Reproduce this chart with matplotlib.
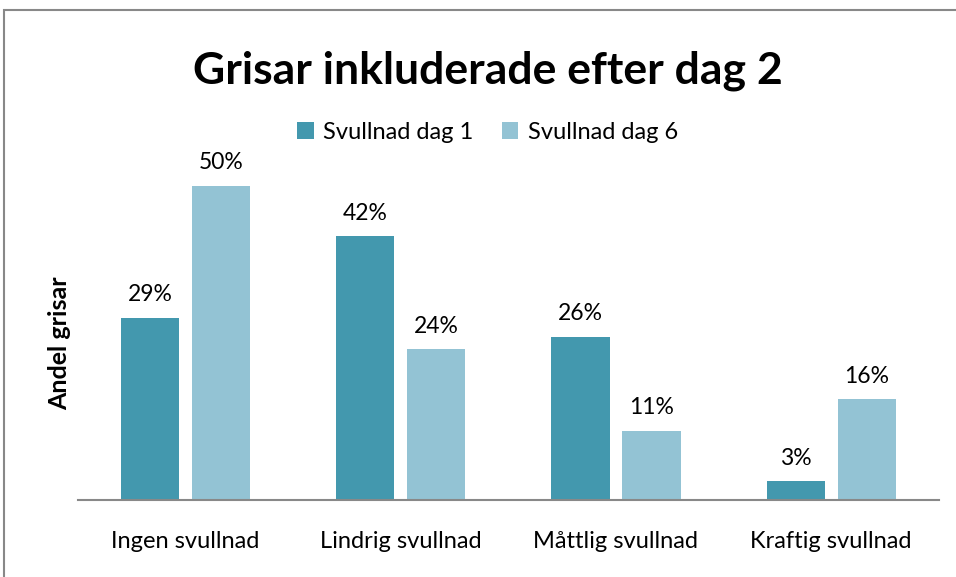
import numpy as np
import matplotlib.pyplot as plt
from matplotlib.patches import Rectangle

plt.rcParams['font.family'] = ['Lato', 'DejaVu Sans']

categories = ['Ingen svullnad', 'Lindrig svullnad', 'Måttlig svullnad', 'Kraftig svullnad']
series_names = ['Svullnad dag 1', 'Svullnad dag 6']
dag1 = [0.29, 0.42, 0.26, 0.03]
dag6 = [0.50, 0.24, 0.11, 0.16]
colors = ['#4398AE', '#93C3D4']

fig = plt.figure(figsize=(9.56, 5.77), dpi=100)
ax = fig.add_axes([0.0816, 0.1334, 0.9004, 0.6536])

x = np.arange(len(categories))
w = 0.27
off = 0.165
b1 = ax.bar(x - off, dag1, w, color=colors[0], label=series_names[0])
b2 = ax.bar(x + off, dag6, w, color=colors[1], label=series_names[1])

for bars, vals in [(b1, dag1), (b2, dag6)]:
    for rect, v in zip(bars, vals):
        ax.annotate(f'{v:.0%}', (rect.get_x() + rect.get_width() / 2, v),
                    xytext=(0, 9), textcoords='offset points',
                    ha='center', va='bottom', fontsize=16.5)

ax.set_xlim(-0.5, 3.5)
ax.set_ylim(0, 0.6)
ax.set_xticks(x, categories, fontsize=17)
ax.tick_params(axis='x', length=0, pad=22)
ax.set_yticks([])
for s in ['top', 'right', 'left']:
    ax.spines[s].set_visible(False)
ax.spines['bottom'].set_color('#888888')
ax.spines['bottom'].set_linewidth(1.5)

fig.text(0.062, 0.405, 'Andel grisar', rotation=90, ha='center', va='center',
         fontsize=18, fontweight='bold')
fig.text(0.51, 0.878, 'Grisar inkluderade efter dag 2', ha='center', va='center',
         fontsize=32, fontweight='bold')
fig.legend(loc='center', bbox_to_anchor=(0.51, 0.771), ncol=2, frameon=False,
           fontsize=17, handlelength=0.7, handleheight=0.7, columnspacing=1.2,
           handletextpad=0.4)

# chart frame (cut off at right and bottom)
fig.patches.append(Rectangle((4 / 956, -0.1), 1.2, 1.1 - 10 / 577,
                             transform=fig.transFigure, fill=False,
                             edgecolor='#888888', linewidth=1.5))

fig.savefig('out.png', dpi=100)
